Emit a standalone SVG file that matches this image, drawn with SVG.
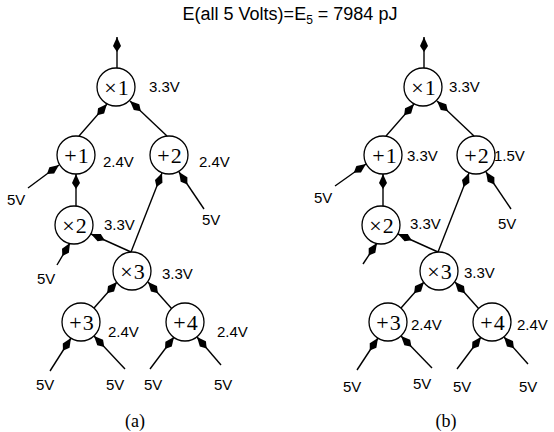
<svg xmlns="http://www.w3.org/2000/svg" width="554" height="432" viewBox="0 0 554 432">
<style>
.n circle{fill:#fff;stroke:#000;stroke-width:1.3}
.op{font-family:"Liberation Serif",serif;font-size:22px;text-anchor:middle;letter-spacing:1px}
.v{font-family:"Liberation Sans",Arial,sans-serif;font-size:15px}
.e line{stroke:#000;stroke-width:1.4}
.e .h{fill:#000;stroke:none}
.cap{font-family:"Liberation Serif",serif;font-size:18px;text-anchor:middle}
</style>
<defs>
<path id="ah" d="M0,0 L-9,-4 L-15,0 L-9,4 Z"/>
</defs>
<text x="290" y="20" text-anchor="middle" font-family="Liberation Sans,Arial,sans-serif" font-size="18">E(all 5 Volts)=E<tspan font-size="12" dy="4">5</tspan><tspan dy="-4"> = 7984 pJ</tspan></text>

<g id="connectors" class="e">
<line x1="117" y1="68" x2="117" y2="37"/>
<line x1="79" y1="136" x2="107" y2="104"/>
<line x1="167" y1="136" x2="130" y2="101"/>
<line x1="28" y1="188" x2="59" y2="165"/>
<line x1="76" y1="206" x2="76" y2="174"/>
<line x1="204" y1="209" x2="179" y2="172"/>
<line x1="131" y1="252" x2="162" y2="173"/>
<line x1="131" y1="252" x2="91" y2="234"/>
<line x1="57" y1="265" x2="70" y2="243"/>
<line x1="94" y1="308" x2="117" y2="282"/>
<line x1="172" y1="309" x2="148" y2="282"/>
<line x1="50" y1="371" x2="71" y2="338"/>
<line x1="125" y1="369" x2="94" y2="336"/>
<line x1="150" y1="369" x2="174" y2="337"/>
<line x1="221" y1="365" x2="197" y2="337"/>
<g class="h">
<use href="#ah" transform="translate(117,37) rotate(-90)"/>
<use href="#ah" transform="translate(107,104) rotate(-48.8)"/>
<use href="#ah" transform="translate(130,101) rotate(-136.6)"/>
<use href="#ah" transform="translate(59,165) rotate(-36.6)"/>
<use href="#ah" transform="translate(76,174) rotate(-90)"/>
<use href="#ah" transform="translate(179,172) rotate(-124)"/>
<use href="#ah" transform="translate(162,173) rotate(-68.6)"/>
<use href="#ah" transform="translate(91,234) rotate(-155.8)"/>
<use href="#ah" transform="translate(70,243) rotate(-59.4)"/>
<use href="#ah" transform="translate(117,282) rotate(-48.5)"/>
<use href="#ah" transform="translate(148,282) rotate(-131.6)"/>
<use href="#ah" transform="translate(71,338) rotate(-57.5)"/>
<use href="#ah" transform="translate(94,336) rotate(-133.2)"/>
<use href="#ah" transform="translate(174,337) rotate(-53.1)"/>
<use href="#ah" transform="translate(197,337) rotate(-130.6)"/>
</g>

<line x1="424" y1="68" x2="424" y2="37"/>
<line x1="386" y1="136" x2="414" y2="104"/>
<line x1="474" y1="136" x2="437" y2="101"/>
<line x1="335" y1="186" x2="366" y2="164"/>
<line x1="383" y1="206" x2="383" y2="174"/>
<line x1="511" y1="209" x2="486" y2="172"/>
<line x1="438" y1="252" x2="469" y2="173"/>
<line x1="438" y1="252" x2="398" y2="234"/>
<line x1="363" y1="264" x2="377" y2="243"/>
<line x1="401" y1="308" x2="424" y2="282"/>
<line x1="479" y1="309" x2="455" y2="282"/>
<line x1="357" y1="370" x2="378" y2="338"/>
<line x1="432" y1="368" x2="401" y2="336"/>
<line x1="457" y1="369" x2="481" y2="337"/>
<line x1="528" y1="364" x2="504" y2="337"/>
<g class="h">
<use href="#ah" transform="translate(424,37) rotate(-90)"/>
<use href="#ah" transform="translate(414,104) rotate(-48.8)"/>
<use href="#ah" transform="translate(437,101) rotate(-136.6)"/>
<use href="#ah" transform="translate(366,164) rotate(-35.4)"/>
<use href="#ah" transform="translate(383,174) rotate(-90)"/>
<use href="#ah" transform="translate(486,172) rotate(-124)"/>
<use href="#ah" transform="translate(469,173) rotate(-68.6)"/>
<use href="#ah" transform="translate(398,234) rotate(-155.8)"/>
<use href="#ah" transform="translate(377,243) rotate(-56.3)"/>
<use href="#ah" transform="translate(424,282) rotate(-48.5)"/>
<use href="#ah" transform="translate(455,282) rotate(-131.6)"/>
<use href="#ah" transform="translate(378,338) rotate(-56.7)"/>
<use href="#ah" transform="translate(401,336) rotate(-134)"/>
<use href="#ah" transform="translate(481,337) rotate(-53.1)"/>
<use href="#ah" transform="translate(504,337) rotate(-131.6)"/>
</g>
</g>

<g id="a-x1" class="n"><circle cx="116" cy="87" r="19"/><text class="op" x="117" y="95">×1</text><text class="v" x="149" y="92">3.3V</text></g>
<g id="a-p1" class="n"><circle cx="76" cy="155" r="19"/><text class="op" x="77" y="163">+1</text><text class="v" x="103" y="167">2.4V</text></g>
<g id="a-p2" class="n"><circle cx="169" cy="155" r="19"/><text class="op" x="170" y="163">+2</text><text class="v" x="199" y="167">2.4V</text></g>
<g id="a-x2" class="n"><circle cx="74" cy="225" r="19"/><text class="op" x="75" y="233">×2</text><text class="v" x="104" y="230">3.3V</text></g>
<g id="a-x3" class="n"><circle cx="132" cy="271" r="19"/><text class="op" x="133" y="279">×3</text><text class="v" x="162" y="279">3.3V</text></g>
<g id="a-p3" class="n"><circle cx="81" cy="322" r="19"/><text class="op" x="82" y="330">+3</text><text class="v" x="108" y="337">2.4V</text></g>
<g id="a-p4" class="n"><circle cx="185" cy="322" r="19"/><text class="op" x="186" y="330">+4</text><text class="v" x="217" y="337">2.4V</text></g>
<g id="a-inputs" class="v">
<text x="7" y="205">5V</text><text x="202" y="225">5V</text><text x="37" y="284">5V</text>
<text x="36" y="390">5V</text><text x="106" y="390">5V</text><text x="144" y="390">5V</text><text x="214" y="390">5V</text>
</g>
<text class="cap" x="135" y="427">(a)</text>

<g id="b-x1" class="n"><circle cx="423" cy="87" r="19"/><text class="op" x="424" y="95">×1</text><text class="v" x="449" y="92">3.3V</text></g>
<g id="b-p1" class="n"><circle cx="383" cy="155" r="19"/><text class="op" x="385" y="163">+1</text><text class="v" x="407" y="161">3.3V</text></g>
<g id="b-p2" class="n"><circle cx="476" cy="155" r="19"/><text class="op" x="477" y="163">+2</text><text class="v" x="494" y="161">1.5V</text></g>
<g id="b-x2" class="n"><circle cx="381" cy="225" r="19"/><text class="op" x="382" y="233">×2</text><text class="v" x="410" y="229">3.3V</text></g>
<g id="b-x3" class="n"><circle cx="439" cy="271" r="19"/><text class="op" x="440" y="279">×3</text><text class="v" x="464" y="278">3.3V</text></g>
<g id="b-p3" class="n"><circle cx="388" cy="322" r="19"/><text class="op" x="389" y="330">+3</text><text class="v" x="411" y="330">2.4V</text></g>
<g id="b-p4" class="n"><circle cx="492" cy="322" r="19"/><text class="op" x="493" y="330">+4</text><text class="v" x="517" y="330">2.4V</text></g>
<g id="b-inputs" class="v">
<text x="314" y="203">5V</text><text x="498" y="229">5V</text>
<text x="343" y="392">5V</text><text x="413" y="389">5V</text><text x="453" y="392">5V</text><text x="519" y="392">5V</text>
</g>
<text class="cap" x="446" y="427">(b)</text>
</svg>
